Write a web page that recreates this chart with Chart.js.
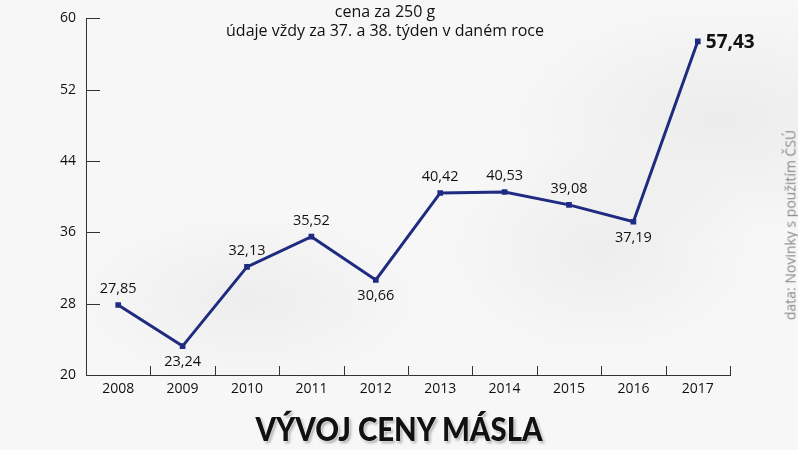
<!DOCTYPE html>
<html lang="cs">
<head>
  <meta charset="UTF-8">
  <title>Vývoj ceny másla</title>
  <script src="https://cdn.jsdelivr.net/npm/chart.js"></script>
  <style>
    body { margin: 0; }
    #wrap {
      position: relative; width: 798px; height: 450px; overflow: hidden;
      background:
        radial-gradient(ellipse 180px 90px at 250px 300px, rgba(215,215,215,0.3), rgba(255,255,255,0)),
        radial-gradient(ellipse 160px 110px at 600px 250px, rgba(215,215,215,0.3), rgba(255,255,255,0)),
        radial-gradient(ellipse 220px 120px at 720px 120px, rgba(215,215,215,0.35), rgba(255,255,255,0)),
        #f7f7f7;
      font-family: "Open Sans", sans-serif;
    }
    #sub {
      position: absolute; left: 135px; width: 500px; top: 2px;
      text-align: center; font-size: 16px; line-height: 19px; color: #111;
    }
    #title {
      position: absolute; left: 0; width: 798px; top: 408px;
      text-align: center; font-family: Lato, sans-serif; font-weight: 900; font-size: 33px;
      color: #111; transform: scaleX(0.89);
      text-shadow: 0 0 2px #fff, 0 0 2px #fff, 2px 2px 3px rgba(0,0,0,0.35);
    }
    #src {
      position: absolute; left: 790px; top: 225px; transform: translate(-50%, -50%) rotate(-90deg);
      white-space: nowrap; font-size: 14px; color: #888;
    }
  </style>
</head>
<body>
<div id="wrap">
  <canvas id="lineChart" width="798" height="450"></canvas>
  <div id="sub">cena za 250 g<br>údaje vždy za 37. a 38. týden v daném roce</div>
  <div id="title">VÝVOJ CENY MÁSLA</div>
  <div id="src">data: Novinky s použitím ČSÚ</div>
</div>

<script>
  const years = ['2008', '2009', '2010', '2011', '2012', '2013', '2014', '2015', '2016', '2017'];
  const prices = [27.85, 23.24, 32.13, 35.52, 30.66, 40.42, 40.53, 39.08, 37.19, 57.43];
  const labelPos = ['above', 'below', 'above', 'above', 'below', 'above', 'above', 'above', 'below', 'right'];
  const yTicks = [20, 28, 36, 44, 52, 60];

  const navy = '#1f2b80';

  // short tick marks drawn inside the plot, plus the value labels
  const extras = {
    id: 'extras',
    afterDraw(chart) {
      const ctx = chart.ctx;
      const x = chart.scales.x, y = chart.scales.y;
      ctx.save();
      ctx.strokeStyle = '#333';
      ctx.lineWidth = 1;
      yTicks.forEach(v => {
        const py = Math.round(y.getPixelForValue(v)) + 0.5;
        ctx.beginPath();
        ctx.moveTo(x.left, py);
        ctx.lineTo(x.left + 14, py);
        ctx.stroke();
      });
      const step = (x.right - x.left) / years.length;
      for (let i = 1; i <= years.length; i++) {
        const px = Math.round(x.left + i * step) + 0.5;
        ctx.beginPath();
        ctx.moveTo(px, y.bottom);
        ctx.lineTo(px, y.bottom - 9);
        ctx.stroke();
      }

      const pts = chart.getDatasetMeta(0).data;
      ctx.fillStyle = '#111';
      pts.forEach((p, i) => {
        const txt = prices[i].toFixed(2).replace('.', ',');
        if (labelPos[i] === 'right') {
          ctx.font = 'bold 19px "Open Sans", sans-serif';
          ctx.textAlign = 'left';
          ctx.textBaseline = 'middle';
          ctx.fillText(txt, p.x + 8, p.y + 1);
        } else {
          ctx.font = '14.5px "Open Sans", sans-serif';
          ctx.textAlign = 'center';
          ctx.textBaseline = 'middle';
          ctx.fillText(txt, p.x, labelPos[i] === 'above' ? p.y - 16 : p.y + 16);
        }
      });
      ctx.restore();
    }
  };

  new Chart(document.getElementById('lineChart'), {
    type: 'line',
    data: {
      labels: years,
      datasets: [{
        data: prices,
        borderColor: navy,
        backgroundColor: navy,
        borderWidth: 3,
        pointStyle: 'rect',
        pointRadius: 4,
        pointBorderWidth: 0,
        tension: 0
      }]
    },
    options: {
      responsive: false,
      animation: false,
      layout: { padding: { top: 15, right: 68, left: 0, bottom: 0 } },
      plugins: { legend: { display: false }, tooltip: { enabled: false } },
      scales: {
        x: {
          offset: true,
          grid: { display: false, drawTicks: false },
          border: { display: true, color: '#333', width: 1 },
          ticks: { color: '#111', padding: 6, font: { family: 'Open Sans', size: 14 } },
          afterFit(s) { s.height = 75; }
        },
        y: {
          min: 20, max: 60,
          afterBuildTicks(s) { s.ticks = yTicks.map(v => ({ value: v })); },
          grid: { display: false, drawTicks: false },
          border: { display: true, color: '#333', width: 1 },
          ticks: { color: '#111', padding: 10, font: { family: 'Open Sans', size: 14 } },
          afterFit(s) { s.width = 86; }
        }
      }
    },
    plugins: [extras]
  });
</script>
</body>
</html>
